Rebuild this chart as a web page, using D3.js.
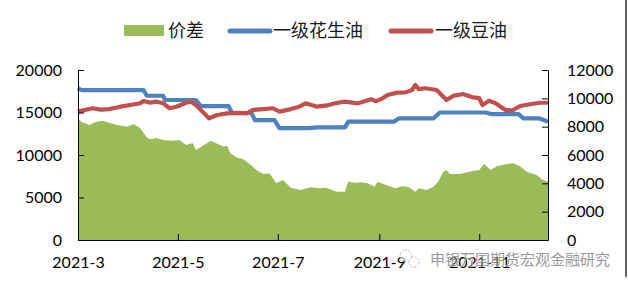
<!DOCTYPE html>
<html>
<head>
<meta charset="utf-8">
<script src="https://cdn.jsdelivr.net/npm/d3@7"></script>
<style>
  html, body { margin: 0; padding: 0; background: #fff; }
  .axis text { font-family: Lato, "Liberation Sans", sans-serif; font-size: 16px; fill: #000; }
  .axis path, .axis line { stroke: #000; stroke-width: 1; }
</style>
</head>
<body>
<div id="chart"></div>
<script>
// series names as in the legend
const seriesNames = ["价差", "一级花生油", "一级豆油"];

// 价差 (right axis)
const spreadDates = ["2021-03-01","2021-03-03","2021-03-08","2021-03-12","2021-03-16","2021-03-21","2021-03-25","2021-03-31",
  "2021-04-04","2021-04-08","2021-04-12","2021-04-14","2021-04-18","2021-04-22","2021-04-28","2021-05-02","2021-05-06",
  "2021-05-10","2021-05-12","2021-05-17","2021-05-21","2021-05-25","2021-05-29","2021-05-31","2021-06-02","2021-06-06",
  "2021-06-10","2021-06-14","2021-06-18","2021-06-22","2021-06-26","2021-06-30","2021-07-04","2021-07-09","2021-07-15",
  "2021-07-21","2021-07-27","2021-07-30","2021-08-06","2021-08-11","2021-08-13","2021-08-17","2021-08-21","2021-08-25",
  "2021-08-29","2021-08-31","2021-09-05","2021-09-11","2021-09-15","2021-09-19","2021-09-23","2021-09-25","2021-09-30",
  "2021-10-04","2021-10-07","2021-10-10","2021-10-12","2021-10-14","2021-10-20","2021-10-26","2021-11-01","2021-11-04",
  "2021-11-08","2021-11-12","2021-11-18","2021-11-22","2021-11-26","2021-11-30","2021-12-06","2021-12-10","2021-12-13"];
const spreadValues = [8590,8350,8120,8350,8420,8250,8120,8000,
  8180,7880,7250,7110,7200,7060,7000,7060,6710,
  6850,6350,6710,7010,6800,6590,6650,6120,5820,
  5700,5350,4940,4660,4700,4000,4240,3690,3530,
  3720,3650,3700,3410,3410,4120,4050,4080,4000,
  3760,4120,3880,3650,3810,3720,3410,3650,3530,
  3760,4120,4820,4940,4660,4660,4820,4940,5370,
  4940,5220,5370,5410,5180,4820,4590,4240,4120];

// 一级花生油 (left axis)
const peanutDates = ["2021-03-01","2021-03-03","2021-04-10","2021-04-12","2021-04-22","2021-04-23","2021-05-12","2021-05-15",
  "2021-06-01","2021-06-03","2021-06-15","2021-06-17","2021-06-29","2021-07-02","2021-07-20","2021-07-25","2021-08-11",
  "2021-08-13","2021-09-10","2021-09-13","2021-10-04","2021-10-08","2021-11-05","2021-11-09","2021-11-25","2021-11-28",
  "2021-12-08","2021-12-13"];
const peanutValues = [17880,17640,17640,16970,16970,16470,16470,15750,
  15750,14940,14940,14110,14110,13170,13170,13250,13250,
  13920,13920,14310,14310,15000,15000,14800,14800,14300,
  14300,13920];

// 一级豆油 (right axis)
const soyDates = ["2021-03-01","2021-03-04","2021-03-10","2021-03-15","2021-03-20","2021-03-27","2021-04-02","2021-04-08",
  "2021-04-10","2021-04-14","2021-04-18","2021-04-22","2021-04-26","2021-04-30","2021-05-06","2021-05-09","2021-05-12",
  "2021-05-16","2021-05-20","2021-05-25","2021-05-31","2021-06-06","2021-06-12","2021-06-16","2021-06-22","2021-06-28",
  "2021-07-02","2021-07-09","2021-07-14","2021-07-18","2021-07-25","2021-07-31","2021-08-05","2021-08-11","2021-08-19",
  "2021-08-27","2021-08-30","2021-09-03","2021-09-06","2021-09-12","2021-09-17","2021-09-21","2021-09-23","2021-09-25",
  "2021-09-29","2021-10-06","2021-10-12","2021-10-16","2021-10-22","2021-10-28","2021-11-01","2021-11-03","2021-11-07",
  "2021-11-11","2021-11-17","2021-11-21","2021-11-26","2021-12-02","2021-12-08","2021-12-13"];
const soyValues = [9060,9150,9300,9200,9240,9410,9530,9650,
  9810,9700,9765,9650,9300,9410,9690,9765,9530,
  9060,8590,8825,8940,8980,8940,9180,9240,9300,
  9060,9240,9410,9650,9410,9500,9650,9765,9650,
  9930,9800,10000,10240,10400,10420,10590,10940,10650,
  10710,10590,9880,10170,10310,10070,10020,9530,9830,
  9650,9180,9130,9460,9580,9690,9690];

const xTickDates = ["2021-03-01","2021-05-01","2021-07-01","2021-09-01","2021-11-01"];
const xTickLabels = ["2021-3","2021-5","2021-7","2021-9","2021-11"];
const leftTicks = [0, 5000, 10000, 15000, 20000];
const rightTicks = [0, 2000, 4000, 6000, 8000, 10000, 12000];

const parse = d3.timeParse("%Y-%m-%d");
const zip = (ds, vs) => ds.map((d, i) => ({ date: parse(d), value: vs[i] }));
const spread = zip(spreadDates, spreadValues);
const peanut = zip(peanutDates, peanutValues);
const soy = zip(soyDates, soyValues);

const width = 628, height = 289;
const margin = { top: 70, right: 80, bottom: 49, left: 78 };
const colors = { spread: "#9BBB59", peanut: "#4F81BD", soy: "#C0504D" };

const svg = d3.select("#chart").append("svg")
  .attr("width", width)
  .attr("height", height);

const x = d3.scaleTime()
  .domain([parse("2021-03-01"), parse("2021-12-13")])
  .range([margin.left, width - margin.right]);
const yL = d3.scaleLinear().domain([0, 20000]).range([height - margin.bottom, margin.top]);
const yR = d3.scaleLinear().domain([0, 12000]).range([height - margin.bottom, margin.top]);

// area for the spread
svg.append("path")
  .datum(spread)
  .attr("fill", colors.spread)
  .attr("d", d3.area().x(d => x(d.date)).y0(yR(0)).y1(d => yR(d.value)));

const lineL = d3.line().x(d => x(d.date)).y(d => yL(d.value));
const lineR = d3.line().x(d => x(d.date)).y(d => yR(d.value));

svg.append("path")
  .datum(peanut)
  .attr("fill", "none")
  .attr("stroke", colors.peanut)
  .attr("stroke-width", 4.2)
  .attr("stroke-linejoin", "round")
  .attr("d", lineL);

svg.append("path")
  .datum(soy)
  .attr("fill", "none")
  .attr("stroke", colors.soy)
  .attr("stroke-width", 4.2)
  .attr("stroke-linejoin", "round")
  .attr("d", lineR);

// axes, ticks point inward
const fmt = d3.format("d");

svg.append("g")
  .attr("class", "axis")
  .attr("transform", `translate(0,${height - margin.bottom})`)
  .call(d3.axisBottom(x)
    .tickValues(xTickDates.map(parse))
    .tickFormat((d, i) => xTickLabels[i])
    .tickSizeInner(-6).tickSizeOuter(0).tickPadding(17));

svg.append("g")
  .attr("class", "axis")
  .attr("transform", `translate(${margin.left},0)`)
  .call(d3.axisLeft(yL).tickValues(leftTicks).tickFormat(fmt)
    .tickSizeInner(-6).tickSizeOuter(0).tickPadding(16));

svg.append("g")
  .attr("class", "axis")
  .attr("transform", `translate(${width - margin.right},0)`)
  .call(d3.axisRight(yR).tickValues(rightTicks).tickFormat(fmt)
    .tickSizeInner(-6).tickSizeOuter(0).tickPadding(19));

// legend
const legend = svg.append("g")
  .attr("font-family", "'Noto Sans CJK SC', sans-serif")
  .attr("font-size", 18)
  .attr("fill", "#1a1a1a");
legend.append("rect").attr("x", 124).attr("y", 25).attr("width", 40).attr("height", 11).attr("fill", colors.spread);
legend.append("text").attr("x", 168).attr("y", 37).text(seriesNames[0]);
legend.append("line").attr("x1", 230).attr("x2", 270).attr("y1", 31).attr("y2", 31)
  .attr("stroke", colors.peanut).attr("stroke-width", 5).attr("stroke-linecap", "round");
legend.append("text").attr("x", 273).attr("y", 37).text(seriesNames[1]);
legend.append("line").attr("x1", 391).attr("x2", 431).attr("y1", 31).attr("y2", 31)
  .attr("stroke", colors.soy).attr("stroke-width", 5).attr("stroke-linecap", "round");
legend.append("text").attr("x", 435).attr("y", 37).text(seriesNames[2]);

// right frame edge
svg.append("line")
  .attr("x1", 626).attr("x2", 626).attr("y1", 0).attr("y2", 277)
  .attr("stroke", "#333").attr("stroke-width", 1.5);

// watermark
const wm = svg.append("g").attr("opacity", 0.85);
wm.append("circle").attr("cx", 406).attr("cy", 256).attr("r", 6)
  .attr("fill", "#fff").attr("fill-opacity", 0.7)
  .attr("stroke", "#999").attr("stroke-dasharray", "1.5,1.5");
wm.append("circle").attr("cx", 414).attr("cy", 262).attr("r", 5)
  .attr("fill", "#fff").attr("fill-opacity", 0.7)
  .attr("stroke", "#999").attr("stroke-dasharray", "1.5,1.5");
wm.append("text")
  .attr("x", 430).attr("y", 265)
  .attr("font-family", "'Noto Sans CJK SC', sans-serif")
  .attr("font-size", 15)
  .attr("fill", "#888")
  .attr("stroke", "#fff").attr("stroke-width", 0.6).attr("paint-order", "stroke")
  .text("申银万国期货宏观金融研究");
</script>
</body>
</html>
